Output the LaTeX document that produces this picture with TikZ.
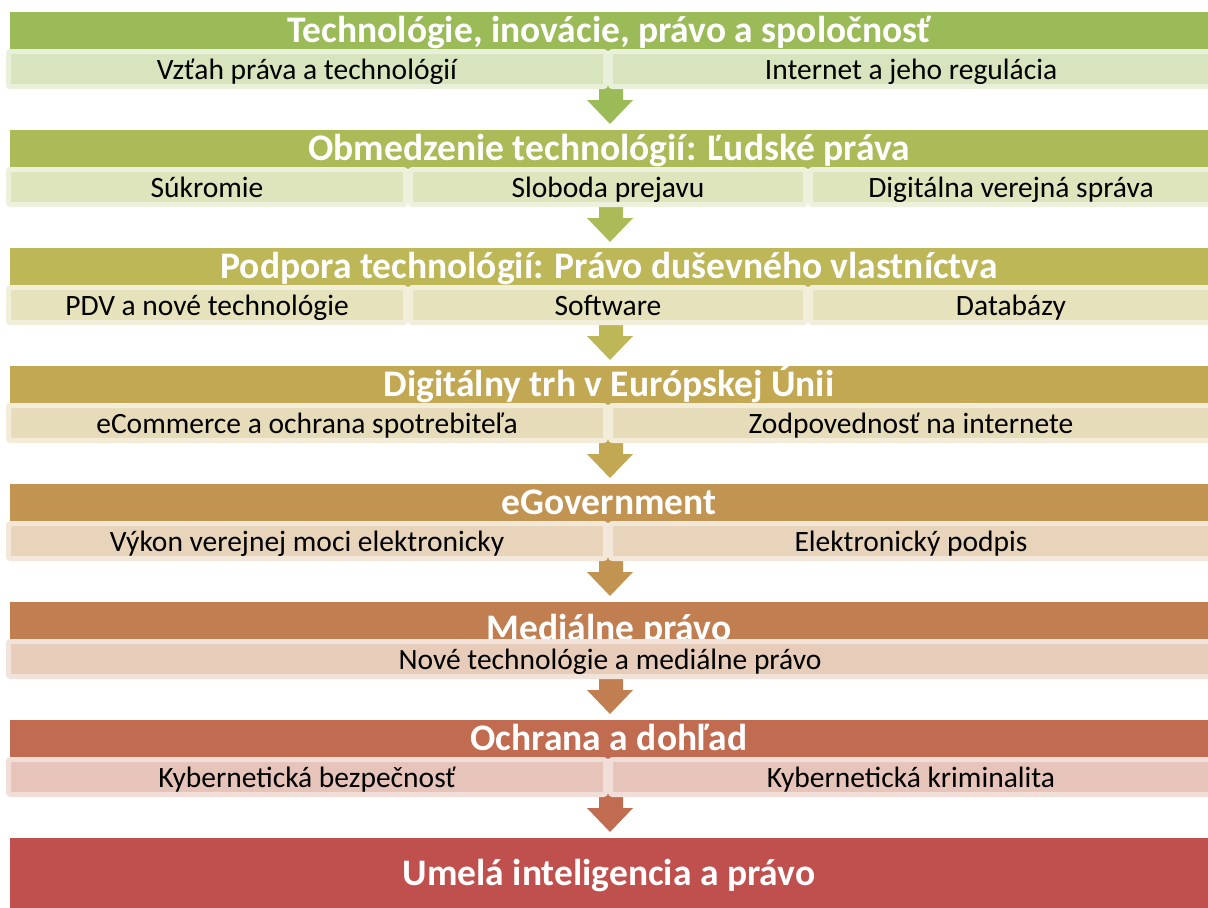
\documentclass[tikz,border=0pt]{standalone}
\usepackage{fontspec}
\setmainfont{Carlito}
\definecolor{hA}{HTML}{9BBB59}
\definecolor{hB}{HTML}{ACBB57}
\definecolor{hC}{HTML}{BEB757}
\definecolor{hD}{HTML}{C2A853}
\definecolor{hE}{HTML}{C29452}
\definecolor{hF}{HTML}{C17F51}
\definecolor{hG}{HTML}{C16B50}
\definecolor{hH}{HTML}{C0504D}
\tikzset{
  hdrbar/.style={anchor=north west, minimum width=1198pt, minimum height=39pt, inner sep=0pt, outer sep=0pt},
  hdrtxt/.style={text=white, font=\bfseries\fontsize{37.5}{37.5}\selectfont, anchor=base, inner sep=0pt},
  subbox/.style={line width=5pt, rounded corners=2pt},
  subtxt/.style={text=black, font=\fontsize{29.5}{29.5}\selectfont, anchor=base, inner sep=0pt},
}
% #1 top, #2 colour
\newcommand\flowarrow[2]{%
  \fill[#2] (599,#1+70) -- (623,#1+70) -- (623,#1+88) -- (633,#1+88) -- (610,#1+112) -- (587,#1+88) -- (599,#1+88) -- cycle;}
% #1 x1, #2 x2, #3 top, #4 colour, #5 name, #6 text
\newcommand\flowsub[6]{%
  \draw[subbox, fill=#4!40!white, draw=#4!22!white] (#1+2.5,#3+39.5) rectangle (#2-2.5,#3+74.5);
  \node[subtxt] (#5) at ({(#1+#2)/2},#3+67.5) {#6};}
\begin{document}
\begin{tikzpicture}[x=1pt,y=-1pt]
\useasboundingbox (0,0) rectangle (1208,908);
\clip (0,0) rectangle (1208,908);
\fill[white] (0,0) rectangle (1208,908);

% section 1
\node[hdrbar, fill=hA] (h1) at (10,12) {};
\node[hdrtxt] (t1) at (609,12+30) {Technológie, inovácie, právo a spoločnosť};
\flowarrow{12}{hA}
\flowsub{6}{608}{12}{hA}{s1a}{Vzťah práva a technológií}
\flowsub{608}{1214}{12}{hA}{s1b}{Internet a jeho regulácia}

% section 2
\node[hdrbar, fill=hB] (h2) at (10,130) {};
\node[hdrtxt] (t2) at (609,130+30) {Obmedzenie technológií: Ľudské práva};
\flowarrow{130}{hB}
\flowsub{6}{408}{130}{hB}{s2a}{Súkromie}
\flowsub{408}{808}{130}{hB}{s2b}{Sloboda prejavu}
\flowsub{808}{1214}{130}{hB}{s2c}{Digitálna verejná správa}

% section 3
\node[hdrbar, fill=hC] (h3) at (10,248) {};
\node[hdrtxt] (t3) at (609,248+30) {Podpora technológií: Právo duševného vlastníctva};
\flowarrow{248}{hC}
\flowsub{6}{408}{248}{hC}{s3a}{PDV a nové technológie}
\flowsub{408}{808}{248}{hC}{s3b}{Software}
\flowsub{808}{1214}{248}{hC}{s3c}{Databázy}

% section 4
\node[hdrbar, fill=hD] (h4) at (10,366) {};
\node[hdrtxt] (t4) at (609,366+30) {Digitálny trh v Európskej Únii};
\flowarrow{366}{hD}
\flowsub{6}{608}{366}{hD}{s4a}{eCommerce a ochrana spotrebiteľa}
\flowsub{608}{1214}{366}{hD}{s4b}{Zodpovednosť na internete}

% section 5
\node[hdrbar, fill=hE] (h5) at (10,484) {};
\node[hdrtxt] (t5) at (609,484+30) {eGovernment};
\flowarrow{484}{hE}
\flowsub{6}{608}{484}{hE}{s5a}{Výkon verejnej moci elektronicky}
\flowsub{608}{1214}{484}{hE}{s5b}{Elektronický podpis}

% section 6
\node[hdrbar, fill=hF] (h6) at (10,602) {};
\node[hdrtxt] (t6) at (609,602+38) {Mediálne právo};
\flowarrow{602}{hF}
\flowsub{6}{1214}{602}{hF}{s6a}{Nové technológie a mediálne právo}

% section 7
\node[hdrbar, fill=hG] (h7) at (10,720) {};
\node[hdrtxt] (t7) at (609,720+30) {Ochrana a dohľad};
\flowarrow{720}{hG}
\flowsub{6}{608}{720}{hG}{s7a}{Kybernetická bezpečnosť}
\flowsub{608}{1214}{720}{hG}{s7b}{Kybernetická kriminalita}

% section 8
\node[hdrbar, fill=hH, minimum height=72pt] (h8) at (10,838) {};
\node[hdrtxt] (t8) at (609,838+47) {Umelá inteligencia a právo};
\end{tikzpicture}
\end{document}
